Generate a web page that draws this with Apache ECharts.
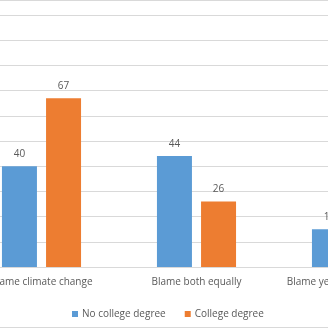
<!DOCTYPE html>
<html>
<head>
<meta charset="utf-8">
<script src="https://cdn.jsdelivr.net/npm/echarts@6/dist/echarts.min.js"></script>
<style>
  html, body { margin: 0; padding: 0; width: 328px; height: 328px; overflow: hidden; background: #fff; }
  #frame { position: absolute; left: 0; top: 0; width: 328px; height: 328px; overflow: hidden;
           box-sizing: border-box; border-top: 1px solid #d9d9d9; border-bottom: 1px solid #d9d9d9; }
  #chart { position: absolute; left: -36px; top: -1px; width: 465px; height: 328px; }
</style>
</head>
<body>
<div id="frame"><div id="chart"></div></div>
<script>
const categories = ['Blame climate change', 'Blame both equally', 'Blame year-to-year weather'];
const seriesNames = ['No college degree', 'College degree'];
const noCollege = [40, 44, 15];
const college = [67, 26, 7];
const yTicks = { min: 0, max: 100, step: 10 };

const font = '"Open Sans", "Liberation Sans", sans-serif';
const chart = echarts.init(document.getElementById('chart'), null, { renderer: 'canvas' });
chart.setOption({
  animation: false,
  color: ['#5B9BD5', '#ED7D31'],
  grid: { left: 0, right: 0, top: 15, bottom: 61, containLabel: false },
  legend: {
    left: 103, top: 304,
    itemWidth: 6, itemHeight: 6, itemGap: 19,
    icon: 'rect',
    textStyle: { color: '#595959', fontSize: 10, fontFamily: font, padding: [0, 0, 0, -1] },
    data: seriesNames
  },
  xAxis: {
    type: 'category',
    data: categories,
    axisLine: { lineStyle: { color: '#d9d9d9', width: 1 } },
    axisTick: { show: false },
    axisLabel: { color: '#595959', fontSize: 10, fontFamily: font, margin: 10, interval: 0 }
  },
  yAxis: {
    type: 'value',
    min: yTicks.min, max: yTicks.max, interval: yTicks.step,
    axisLine: { show: false }, axisTick: { show: false }, axisLabel: { show: false },
    splitLine: { lineStyle: { color: '#d9d9d9', width: 1 } }
  },
  series: [
    { name: seriesNames[0], type: 'bar', data: noCollege, barWidth: 35, barGap: '26%',
      label: { show: true, position: 'top', distance: 7, color: '#595959', fontSize: 10, fontFamily: font } },
    { name: seriesNames[1], type: 'bar', data: college, barWidth: 35, barGap: '26%',
      label: { show: true, position: 'top', distance: 7, color: '#595959', fontSize: 10, fontFamily: font } }
  ]
});
</script>
</body>
</html>
